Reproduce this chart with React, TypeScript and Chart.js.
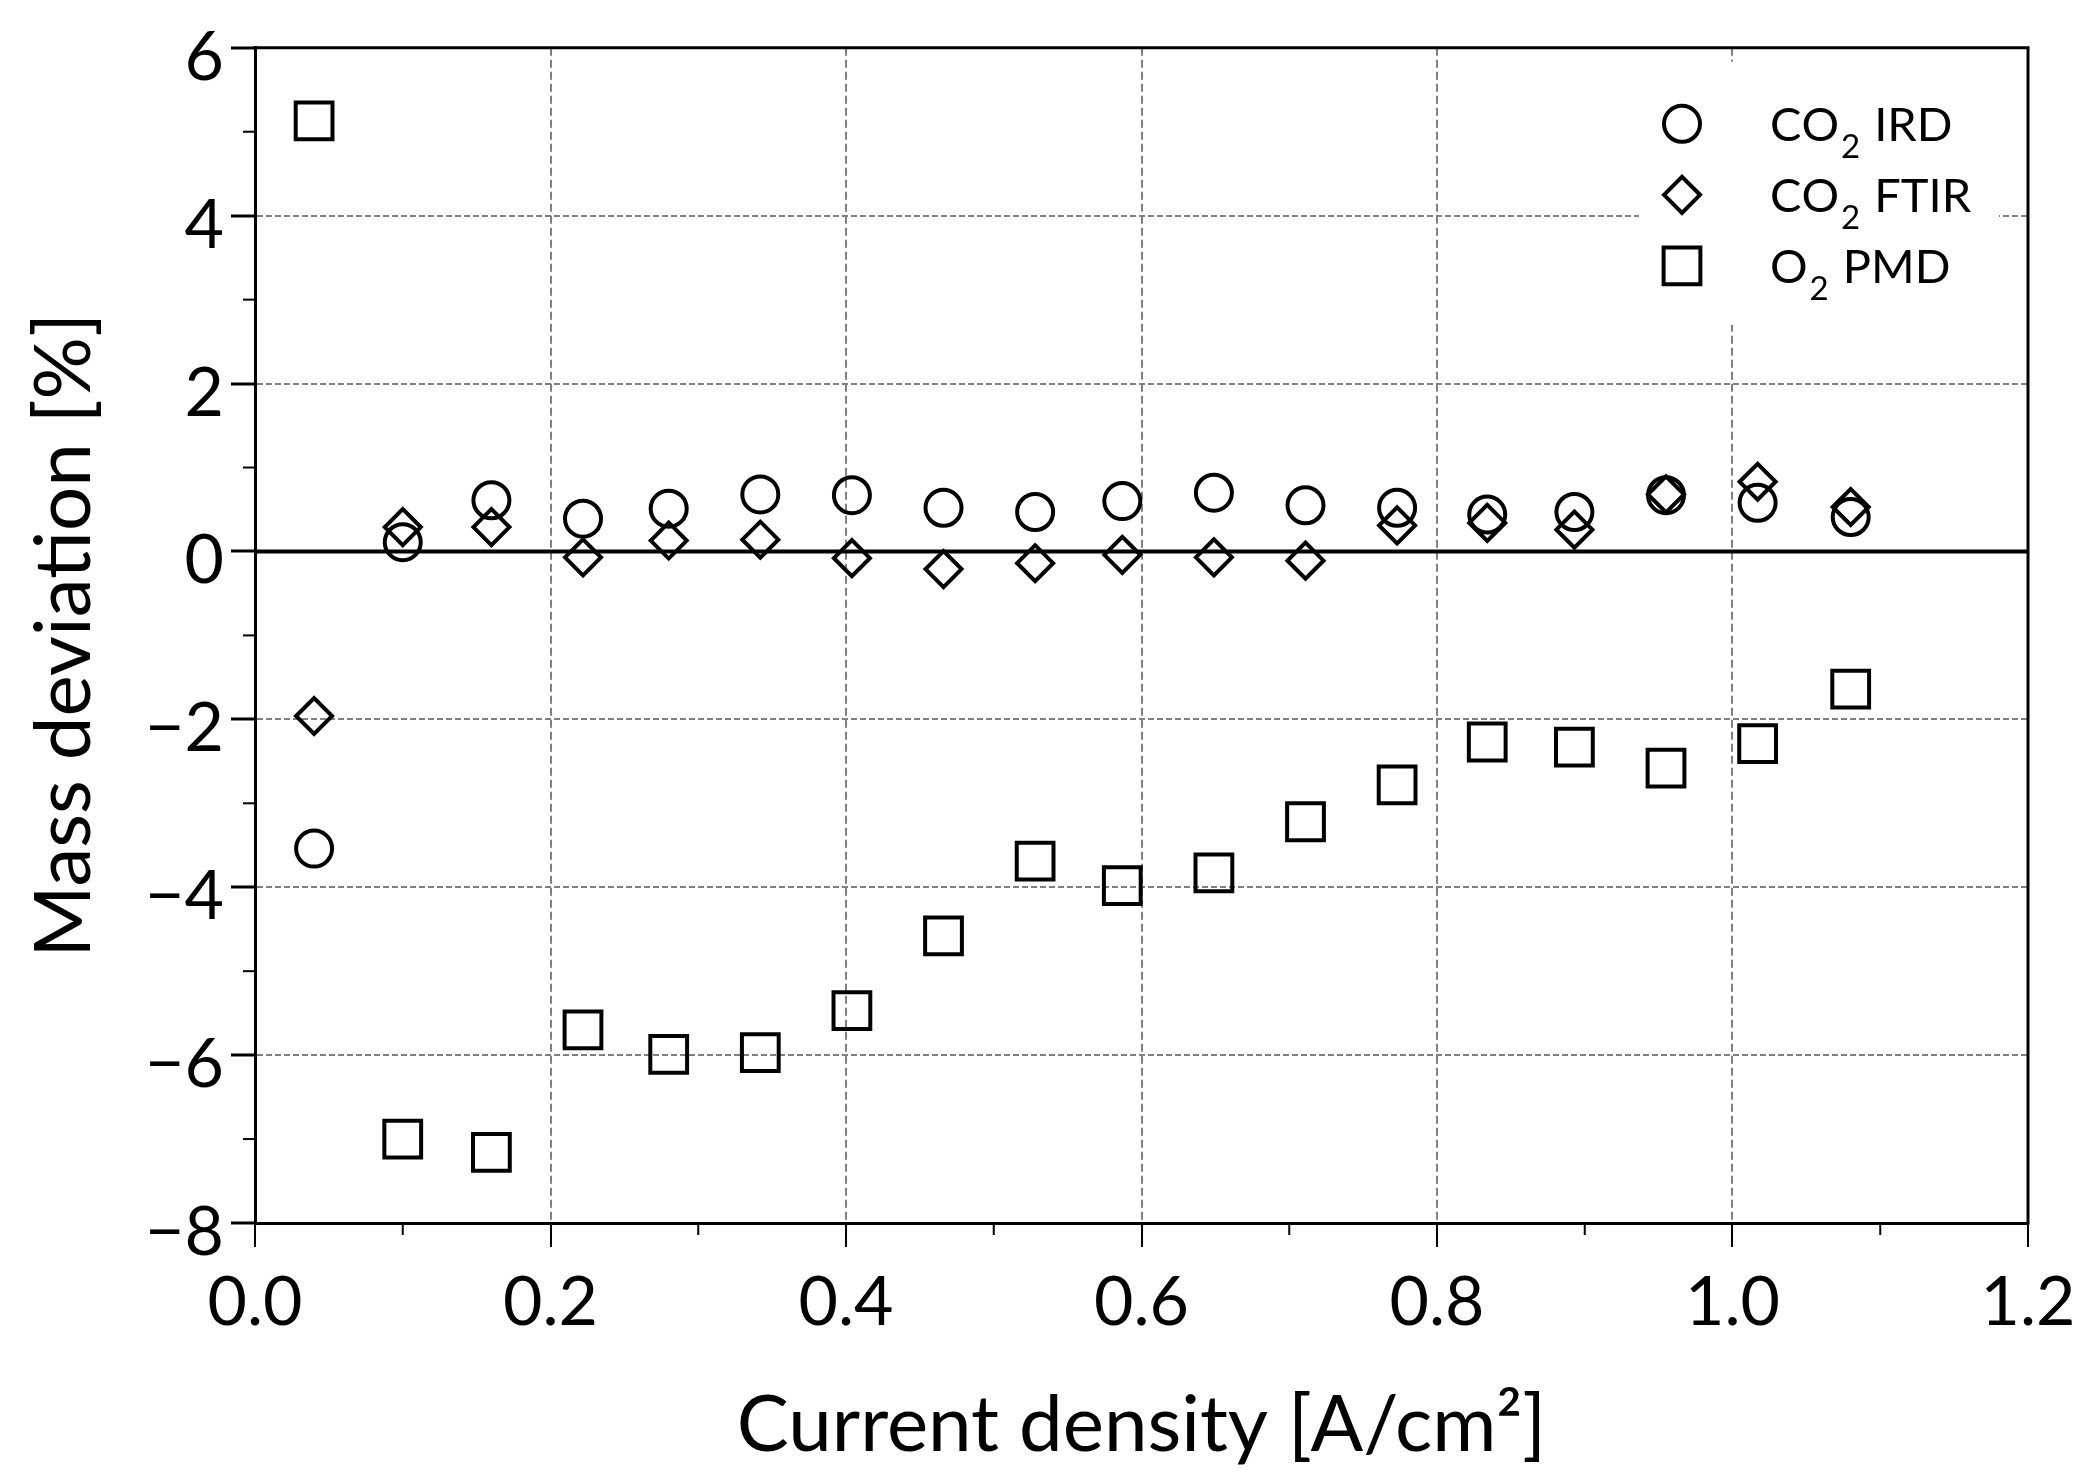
import React, { useEffect, useRef } from 'react';
import { Chart, registerables } from 'chart.js';

Chart.register(...registerables);

// ---------- data ----------
const currentDensity = [0.04, 0.1, 0.16, 0.222, 0.28, 0.342, 0.404, 0.466, 0.528, 0.587, 0.649, 0.711, 0.773, 0.834, 0.893, 0.955, 1.017, 1.08];
const co2IRD = [-3.54, 0.11, 0.61, 0.39, 0.51, 0.68, 0.67, 0.52, 0.47, 0.6, 0.7, 0.55, 0.52, 0.44, 0.47, 0.67, 0.58, 0.41];
const co2FTIR = [-1.96, 0.29, 0.29, -0.07, 0.13, 0.14, -0.08, -0.21, -0.14, -0.04, -0.07, -0.11, 0.31, 0.34, 0.26, 0.68, 0.83, 0.53];
const o2PMD = [5.13, -7.0, -7.16, -5.7, -5.99, -5.97, -5.47, -4.58, -3.69, -3.98, -3.83, -3.22, -2.78, -2.27, -2.33, -2.58, -2.29, -1.64];

const seriesLabels = ['CO₂ IRD', 'CO₂ FTIR', 'O₂ PMD'];
const seriesStyles = ['circle', 'rectRot', 'rect'];
const seriesRadius = [18, 18, 26];

const xTitle = 'Current density [A/cm²]';
const yTitle = 'Mass deviation [%]';
const xMin = 0, xMax = 1.2, xStep = 0.2;
const yMin = -8, yMax = 6, yStep = 2;

const FONT = "Lato, 'DejaVu Sans', sans-serif";
const GRID = '#808080';

function markerPath(ctx: CanvasRenderingContext2D, style: string, x: number, y: number, r: number) {
  ctx.beginPath();
  if (style === 'circle') {
    ctx.arc(x, y, r, 0, Math.PI * 2);
  } else if (style === 'rectRot') {
    ctx.moveTo(x - r, y);
    ctx.lineTo(x, y - r);
    ctx.lineTo(x + r, y);
    ctx.lineTo(x, y + r);
    ctx.closePath();
  } else {
    const s = Math.SQRT1_2 * r;
    ctx.rect(x - s, y - s, 2 * s, 2 * s);
  }
}

const decorPlugin = {
  id: 'decor',
  beforeDatasetsDraw(chart: any) {
    const { ctx, chartArea: a, scales } = chart;
    const y0 = scales.y.getPixelForValue(0);
    ctx.save();
    // legend background (hides grid lines)
    ctx.fillStyle = '#fff';
    ctx.fillRect(a.right - 389, a.top + 14, 360, 263);
    // zero line
    ctx.strokeStyle = '#000';
    ctx.lineWidth = 4;
    ctx.beginPath();
    ctx.moveTo(a.left, y0);
    ctx.lineTo(a.right, y0);
    ctx.stroke();
    // top and right frame
    ctx.lineWidth = 3;
    ctx.beginPath();
    ctx.moveTo(a.left - 1.5, a.top);
    ctx.lineTo(a.right, a.top);
    ctx.lineTo(a.right, a.bottom + 1.5);
    ctx.stroke();
    // minor ticks
    ctx.lineWidth = 2;
    const xt = scales.x.ticks.map((t: any) => t.value);
    for (let i = 0; i < xt.length - 1; i++) {
      const px = scales.x.getPixelForValue((xt[i] + xt[i + 1]) / 2);
      ctx.beginPath();
      ctx.moveTo(px, a.bottom);
      ctx.lineTo(px, a.bottom + 12);
      ctx.stroke();
    }
    const yt = scales.y.ticks.map((t: any) => t.value);
    for (let i = 0; i < yt.length - 1; i++) {
      const py = scales.y.getPixelForValue((yt[i] + yt[i + 1]) / 2);
      ctx.beginPath();
      ctx.moveTo(a.left, py);
      ctx.lineTo(a.left - 12, py);
      ctx.stroke();
    }
    ctx.restore();
  },
  afterDatasetsDraw(chart: any) {
    const { ctx, chartArea: a } = chart;
    ctx.save();
    chart.data.datasets.forEach((ds: any, i: number) => {
      const cy = a.top + 76 + i * 71;
      const cx = a.right - 346;
      ctx.strokeStyle = '#000';
      ctx.lineWidth = 4;
      markerPath(ctx, ds.pointStyle, cx, cy, ds.pointRadius);
      ctx.stroke();
      // text with subscript
      const label: string = ds.label;
      let tx = a.right - 258;
      const base = cy + 17;
      ctx.fillStyle = '#000';
      ctx.textBaseline = 'alphabetic';
      ctx.textAlign = 'left';
      for (const ch of label) {
        if (ch === '₂') {
          ctx.font = `33px ${FONT}`;
          ctx.fillText('2', tx + 2, base + 17);
          tx += ctx.measureText('2').width + 4;
        } else {
          ctx.font = `47px ${FONT}`;
          ctx.fillText(ch, tx, base);
          tx += ctx.measureText(ch).width;
        }
      }
    });
    ctx.restore();
  },
};

export default function App() {
  const ref = useRef<HTMLCanvasElement | null>(null);
  useEffect(() => {
    document.body.style.margin = '0';
    const canvas = ref.current;
    if (!canvas) return;
    const series = [co2IRD, co2FTIR, o2PMD];
    const chart = new Chart(canvas, {
      type: 'scatter',
      data: {
        datasets: series.map((vals, i) => ({
          label: seriesLabels[i],
          data: currentDensity.map((x, j) => ({ x, y: vals[j] })),
          pointStyle: seriesStyles[i] as any,
          pointRadius: seriesRadius[i],
          pointHoverRadius: seriesRadius[i],
          pointBorderWidth: 4,
          pointHoverBorderWidth: 4,
          pointBorderColor: '#000',
          pointBackgroundColor: 'rgba(0,0,0,0)',
          showLine: false,
        })),
      },
      options: {
        animation: false,
        responsive: false,
        devicePixelRatio: 1,
        events: [],
        layout: { autoPadding: false, padding: { top: 39, right: 63, left: 0, bottom: 0 } },
        plugins: { legend: { display: false }, tooltip: { enabled: false } },
        scales: {
          x: {
            type: 'linear',
            min: xMin,
            max: xMax,
            afterFit: (s: any) => { s.height = 250; },
            ticks: {
              stepSize: xStep,
              color: '#000',
              padding: 15,
              font: { family: FONT, size: 68 },
              callback: (v: any) => Number(v).toFixed(1),
            },
            grid: {
              color: (c: any) => (c.tick && (Math.abs(c.tick.value - xMin) < 1e-9 || Math.abs(c.tick.value - xMax) < 1e-9) ? 'rgba(0,0,0,0)' : GRID),
              lineWidth: 2,
              tickColor: '#000',
              tickLength: 24,
              tickWidth: 2,
            },
            border: { display: true, color: '#000', width: 3, dash: [8, 4] },
            title: { display: true, text: xTitle, color: '#000', font: { family: FONT, size: 78 }, padding: { top: 26, bottom: 0 } },
          },
          y: {
            type: 'linear',
            min: yMin,
            max: yMax,
            afterFit: (s: any) => { s.width = 255; },
            ticks: {
              stepSize: yStep,
              color: '#000',
              padding: 7,
              labelOffset: 10,
              font: { family: FONT, size: 68 },
              callback: (v: any) => (Number(v) < 0 ? '\u2212' + Math.abs(Number(v)) : String(v)),
            },
            grid: {
              color: (c: any) => (c.tick && (c.tick.value === yMin || c.tick.value === yMax || c.tick.value === 0) ? 'rgba(0,0,0,0)' : GRID),
              lineWidth: 2,
              tickColor: '#000',
              tickLength: 24,
              tickWidth: 3,
            },
            border: { display: true, color: '#000', width: 3, dash: [6, 3] },
            title: { display: true, text: yTitle, color: '#000', font: { family: FONT, size: 78 }, padding: { top: 18, bottom: 0 } },
          },
        },
      },
      plugins: [decorPlugin],
    });
    return () => chart.destroy();
  }, []);
  return (
    <div style={{ width: 2091, height: 1473, background: '#fff' }}>
      <canvas ref={ref} width={2091} height={1473} style={{ width: 2091, height: 1473, display: 'block' }} />
    </div>
  );
}
